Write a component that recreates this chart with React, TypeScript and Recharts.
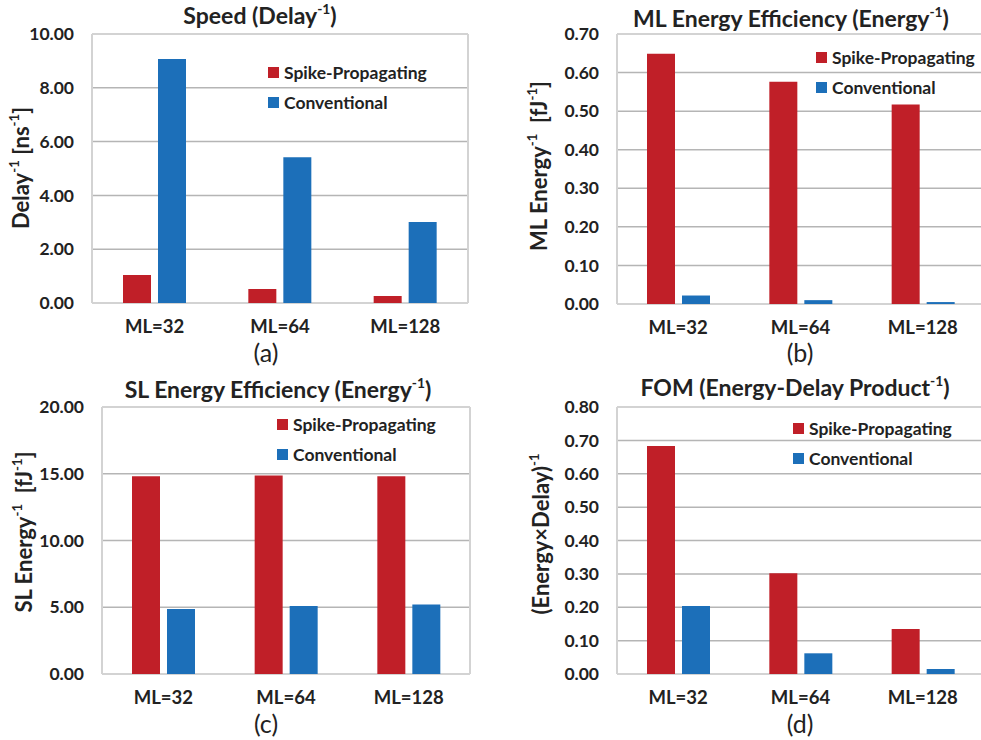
import React from "react"
import { Bar, BarChart, CartesianGrid, Legend, XAxis, YAxis } from "recharts"

const categories = ["ML=32", "ML=64", "ML=128"]
const seriesNames = ["Spike-Propagating", "Conventional"]

const speedSpike = [1.04, 0.52, 0.26]
const speedConv = [9.07, 5.42, 3.01]
const speedTicks = [0, 2, 4, 6, 8, 10]

const mlSpike = [0.649, 0.576, 0.517]
const mlConv = [0.022, 0.01, 0.005]
const mlTicks = [0, 0.1, 0.2, 0.3, 0.4, 0.5, 0.6, 0.7]

const slSpike = [14.81, 14.87, 14.81]
const slConv = [4.86, 5.09, 5.21]
const slTicks = [0, 5, 10, 15, 20]

const fomSpike = [0.683, 0.302, 0.135]
const fomConv = [0.204, 0.062, 0.015]
const fomTicks = [0, 0.1, 0.2, 0.3, 0.4, 0.5, 0.6, 0.7, 0.8]

const RED = "#c01f28"
const BLUE = "#1c6fb9"
const FONT = "Lato, 'Liberation Sans', sans-serif"

const makeRows = (a: number[], b: number[]) =>
  categories.map((cat, i) => ({ cat, spike: a[i], conv: b[i] }))

const Sup = ({ children }: { children: React.ReactNode }) => (
  <sup style={{ fontSize: "0.6em", verticalAlign: "0.7em", lineHeight: 0 }}>{children}</sup>
)

// keep legend rows in series order (recharts sorts them by name otherwise)
const LegendBox = ({ payload }: any) => {
  const items = [...(payload || [])].sort(
    (a: any, b: any) => seriesNames.indexOf(a.value) - seriesNames.indexOf(b.value)
  )
  return (
    <div style={{ fontFamily: FONT, fontWeight: 700, fontSize: 17.5, color: "#222" }}>
      {items.map((p: any) => (
        <div key={p.value} style={{ display: "flex", alignItems: "center", height: 30 }}>
          <span style={{ width: 11, height: 11, background: p.color, marginRight: 5, display: "inline-block" }} />
          {p.value}
        </div>
      ))}
    </div>
  )
}

interface PanelProps {
  left: number
  top: number
  width: number
  plot: { x0: number; x1: number; y0: number; y1: number }
  rows: { cat: string; spike: number; conv: number }[]
  ticks: number[]
  title: React.ReactNode
  titleX: number
  titleY: number
  yLabel: React.ReactNode
  yLabelX: number
  yLabelY: number
  legend: { x: number; y: number }
  caption: string
  captionX: number
  captionY: number
}

const Panel = (p: PanelProps) => {
  const H = 370
  return (
    <div style={{ position: "absolute", left: p.left, top: p.top, width: p.width, height: H }}>
      <BarChart
        width={p.width}
        height={H}
        data={p.rows}
        margin={{ top: p.plot.y0, right: p.width - p.plot.x1, left: 0, bottom: 0 }}
        barSize={28}
        barGap={7}
      >
        <CartesianGrid vertical={false} stroke="#b5b5b5" strokeWidth={1.5} />
        <CartesianGrid
          stroke="#d3d3d3"
          strokeWidth={2}
          horizontalCoordinatesGenerator={({ offset }: any) => [offset.top, offset.top + offset.height]}
          verticalCoordinatesGenerator={({ offset }: any) => [offset.left, offset.left + offset.width]}
        />
        <XAxis
          dataKey="cat"
          height={H - p.plot.y1}
          axisLine={false}
          tickLine={false}
          tickSize={0}
          tickMargin={17}
          tick={{ fill: "#222", fontSize: 18.5, fontWeight: 700, fontFamily: FONT }}
        />
        <YAxis
          width={p.plot.x0}
          domain={[p.ticks[0], p.ticks[p.ticks.length - 1]]}
          ticks={p.ticks}
          interval={0}
          axisLine={false}
          tickLine={false}
          tickSize={0}
          tickMargin={18}
          tickFormatter={(v: number) => v.toFixed(2)}
          tick={{ fill: "#222", fontSize: 17.5, fontWeight: 700, fontFamily: FONT }}
        />
        <Legend
          layout="vertical"
          align="center"
          verticalAlign="middle"
          content={<LegendBox />}
          wrapperStyle={{ position: "absolute", left: p.legend.x, top: p.legend.y, width: "auto", height: "auto" }}
        />
        <Bar dataKey="spike" name={seriesNames[0]} fill={RED} isAnimationActive={false} />
        <Bar dataKey="conv" name={seriesNames[1]} fill={BLUE} isAnimationActive={false} />
      </BarChart>
      <div
        style={{
          position: "absolute",
          left: p.titleX,
          top: p.titleY,
          transform: "translate(-50%, -50%)",
          whiteSpace: "nowrap",
          fontFamily: FONT,
          fontWeight: 700,
          fontSize: 23,
          color: "#222",
        }}
      >
        {p.title}
      </div>
      <div
        style={{
          position: "absolute",
          left: p.yLabelX,
          top: p.yLabelY,
          transform: "translate(-50%, -50%) rotate(-90deg)",
          whiteSpace: "pre",
          fontFamily: FONT,
          fontWeight: 700,
          fontSize: 22,
          color: "#222",
        }}
      >
        {p.yLabel}
      </div>
      <div
        style={{
          position: "absolute",
          left: p.captionX,
          top: p.captionY,
          transform: "translate(-50%, -50%)",
          fontFamily: FONT,
          fontSize: 25,
          color: "#222",
        }}
      >
        {p.caption}
      </div>
    </div>
  )
}

export default function App() {
  return (
    <div
      style={{
        position: "absolute",
        left: 0,
        top: 0,
        width: 981,
        height: 740,
        overflow: "hidden",
        background: "#fff",
      }}
    >
      <Panel
        left={0}
        top={0}
        width={490}
        plot={{ x0: 92, x1: 468, y0: 34, y1: 303 }}
        rows={makeRows(speedSpike, speedConv)}
        ticks={speedTicks}
        title={<>Speed (Delay<Sup>-1</Sup>)</>}
        titleX={260}
        titleY={15}
        yLabel={<>Delay<Sup>-1</Sup> [ns<Sup>-1</Sup>]</>}
        yLabelX={20}
        yLabelY={168}
        legend={{ x: 268, y: 57 }}
        caption="(a)"
        captionX={266}
        captionY={352}
      />
      <Panel
        left={490}
        top={0}
        width={500}
        plot={{ x0: 127, x1: 494, y0: 34, y1: 304 }}
        rows={makeRows(mlSpike, mlConv)}
        ticks={mlTicks}
        title={<>ML Energy Efficiency (Energy<Sup>-1</Sup>)</>}
        titleX={301}
        titleY={18}
        yLabel={<>ML Energy<Sup>-1</Sup>  [fJ<Sup>-1</Sup>]</>}
        yLabelX={48}
        yLabelY={166}
        legend={{ x: 326, y: 42 }}
        caption="(b)"
        captionX={310}
        captionY={352}
      />
      <Panel
        left={0}
        top={370}
        width={490}
        plot={{ x0: 102, x1: 470, y0: 37, y1: 304 }}
        rows={makeRows(slSpike, slConv)}
        ticks={slTicks}
        title={<>SL Energy Efficiency (Energy<Sup>-1</Sup>)</>}
        titleX={278}
        titleY={19}
        yLabel={<>SL Energy<Sup>-1</Sup>  [fJ<Sup>-1</Sup>]</>}
        yLabelX={23}
        yLabelY={162}
        legend={{ x: 277, y: 39 }}
        caption="(c)"
        captionX={266}
        captionY={353}
      />
      <Panel
        left={490}
        top={370}
        width={500}
        plot={{ x0: 127, x1: 494, y0: 37, y1: 304 }}
        rows={makeRows(fomSpike, fomConv)}
        ticks={fomTicks}
        title={<>FOM (Energy-Delay Product<Sup>-1</Sup>)</>}
        titleX={305}
        titleY={17}
        yLabel={<>(Energy×Delay)<Sup>-1</Sup></>}
        yLabelX={50}
        yLabelY={164}
        legend={{ x: 303, y: 43 }}
        caption="(d)"
        captionX={310}
        captionY={353}
      />
    </div>
  )
}
